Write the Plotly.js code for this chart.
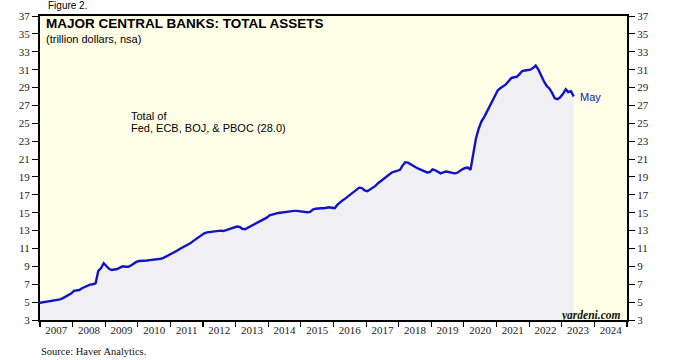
<!DOCTYPE html>
<html>
<head>
<meta charset="utf-8">
<script src="https://cdn.plot.ly/plotly-3.0.1.min.js"></script>
<style>html,body{margin:0;padding:0;background:#fff;}#chart{width:679px;height:360px;}</style>
</head>
<body>
<div id="chart"></div>
<script>
// Monthly total assets (trillion US$), Fed + ECB + BOJ + PBOC, Dec 2006 .. May 2023
const startYear = 2006, startMonth = 12;
const values = [
  4.9,
  // 2007
  4.95, 5.0, 5.05, 5.1, 5.15, 5.2, 5.25, 5.3, 5.45, 5.6, 5.75, 5.95,
  // 2008
  6.25, 6.3, 6.35, 6.55, 6.7, 6.8, 6.95, 7.0, 7.1, 8.5, 8.8, 9.35,
  // 2009
  9.0, 8.7, 8.6, 8.65, 8.7, 8.85, 9.0, 8.95, 8.95, 9.1, 9.3, 9.5,
  // 2010
  9.6, 9.6, 9.65, 9.65, 9.7, 9.72, 9.75, 9.8, 9.85, 9.95, 10.1, 10.3,
  // 2011
  10.45, 10.6, 10.75, 10.95, 11.1, 11.25, 11.4, 11.6, 11.85, 12.05, 12.25, 12.55,
  // 2012
  12.7, 12.8, 12.85, 12.9, 12.95, 13.0, 13.0, 12.95, 13.05, 13.2, 13.3, 13.35,
  // 2013
  13.45, 13.4, 13.2, 13.15, 13.3, 13.45, 13.6, 13.8, 13.95, 14.1, 14.25, 14.45,
  // 2014
  14.7, 14.8, 14.85, 14.95, 15.0, 15.05, 15.05, 15.1, 15.15, 15.2, 15.2, 15.15,
  // 2015
  15.1, 15.05, 15.05, 15.1, 15.35, 15.45, 15.5, 15.5, 15.5, 15.55, 15.6, 15.55,
  // 2016
  15.5, 15.9, 16.2, 16.4, 16.6, 16.85, 17.1, 17.35, 17.55, 17.8, 17.75, 17.5,
  // 2017
  17.4, 17.6, 17.8, 18.0, 18.3, 18.55, 18.8, 19.05, 19.3, 19.5, 19.6, 19.7,
  // 2018
  19.8, 20.3, 20.65, 20.6, 20.4, 20.2, 20.05, 19.9, 19.75, 19.6, 19.5, 19.55,
  // 2019
  19.85, 19.75, 19.55, 19.4, 19.5, 19.6, 19.55, 19.5, 19.4, 19.45, 19.7, 19.85,
  // 2020
  20.0, 20.05, 19.8, 21.8, 23.3, 24.4, 25.2, 25.7, 26.3, 26.9, 27.5, 28.2,
  // 2021
  28.7, 28.95, 29.1, 29.35, 29.7, 30.05, 30.15, 30.2, 30.5, 30.85, 30.9, 30.95,
  // 2022
  31.0, 31.2, 31.45, 31.0, 30.3, 29.7, 29.2, 28.9, 28.4, 27.8, 27.7, 27.9,
  // 2023
  28.3, 28.8, 28.5, 28.6, 28.0
];
const yearLabels = ["2007","2008","2009","2010","2011","2012","2013","2014","2015","2016","2017","2018","2019","2020","2021","2022","2023","2024"];
const yTicks = [3,5,7,9,11,13,15,17,19,21,23,25,27,29,31,33,35,37];

const dates = values.map((v, i) => {
  const m = startMonth - 1 + i;
  const y = startYear + Math.floor(m / 12);
  const mm = (m % 12) + 1;
  return y + "-" + String(mm).padStart(2, "0") + "-15";
});

// pixel helpers for annotation placement (plot area: x 40..627, y 16..320)
const L = 40, R = 627, T = 16, B = 320;
const px = x => (x - L) / (R - L);
const py = y => (B - y) / (B - T);

const lineColor = "#1212C8";
const serif = "Liberation Serif, Times New Roman, serif";
const sans = "Liberation Sans, Arial, sans-serif";

const traces = [
  {
    x: dates, y: values, type: "scatter", mode: "lines",
    line: {color: lineColor, width: 2.4},
    fill: "tozeroy", fillcolor: "#F0F0F2",
    hoverinfo: "skip", showlegend: false
  },
  {
    x: dates, y: values, type: "scatter", mode: "lines", yaxis: "y2",
    line: {color: "rgba(0,0,0,0)", width: 0},
    hoverinfo: "skip", showlegend: false
  }
];

const layout = {
  width: 679, height: 360,
  margin: {l: L, r: 679 - R, t: T, b: 360 - B, pad: 0},
  paper_bgcolor: "#FFFFFF",
  plot_bgcolor: "#FFFFE8",
  showlegend: false,
  xaxis: {
    type: "date",
    range: ["2007-01-01", "2025-01-01"],
    tick0: "2007-01-01", dtick: "M12",
    ticklabelmode: "period",
    tickformat: "%Y",
    ticks: "outside", ticklen: 5, tickwidth: 1.2, tickcolor: "#000",
    ticklabelstandoff: -6,
    showline: true, linecolor: "#000", linewidth: 2,
    mirror: true,
    showgrid: false, zeroline: false,
    tickfont: {family: serif, size: 11, color: "#222"}
  },
  yaxis: {
    range: [3, 37],
    tickvals: yTicks, ticktext: yTicks.map(String),
    ticks: "outside", ticklen: 6, tickwidth: 1, tickcolor: "#000",
    showline: true, linecolor: "#000", linewidth: 2,
    showgrid: false, zeroline: false,
    tickfont: {family: serif, size: 11, color: "#222"}
  },
  yaxis2: {
    range: [3, 37], overlaying: "y", side: "right",
    tickvals: yTicks, ticktext: yTicks.map(String),
    ticks: "outside", ticklen: 6, tickwidth: 1, tickcolor: "#000",
    showline: true, linecolor: "#000", linewidth: 2,
    showgrid: false, zeroline: false,
    tickfont: {family: serif, size: 11, color: "#222"}
  },
  annotations: [
    {xref: "paper", yref: "paper", x: px(46), y: py(6), xanchor: "left", yanchor: "middle",
     text: "Figure 2.", showarrow: false, font: {family: sans, size: 10, color: "#000"}},
    {xref: "paper", yref: "paper", x: px(44), y: py(24), xanchor: "left", yanchor: "middle",
     text: "<b>MAJOR CENTRAL BANKS: TOTAL ASSETS</b>", showarrow: false,
     font: {family: sans, size: 13.5, color: "#000"}},
    {xref: "paper", yref: "paper", x: px(44), y: py(38.5), xanchor: "left", yanchor: "middle",
     text: "(trillion dollars, nsa)", showarrow: false,
     font: {family: sans, size: 11, color: "#000"}},
    {xref: "paper", yref: "paper", x: px(129), y: py(116), xanchor: "left", yanchor: "middle",
     text: "Total of", showarrow: false,
     font: {family: sans, size: 11, color: "#000"}},
    {xref: "paper", yref: "paper", x: px(129), y: py(127.5), xanchor: "left", yanchor: "middle",
     text: "Fed, ECB, BOJ, & PBOC (28.0)", showarrow: false,
     font: {family: sans, size: 11, color: "#000"}},
    {xref: "paper", yref: "paper", x: px(578), y: py(97), xanchor: "left", yanchor: "middle",
     text: "May", showarrow: false,
     font: {family: sans, size: 11, color: lineColor}},
    {xref: "paper", yref: "paper", x: px(623), y: py(315), xanchor: "right", yanchor: "middle",
     text: "<b><i>yardeni.com</i></b>", showarrow: false,
     font: {family: serif, size: 11.5, color: "#111"}},
    {xref: "paper", yref: "paper", x: px(39), y: py(352), xanchor: "left", yanchor: "middle",
     text: "Source: Haver Analytics.", showarrow: false,
     font: {family: serif, size: 10.5, color: "#111"}}
  ]
};

Plotly.newPlot("chart", traces, layout, {displayModeBar: false, staticPlot: true});
</script>
</body>
</html>
